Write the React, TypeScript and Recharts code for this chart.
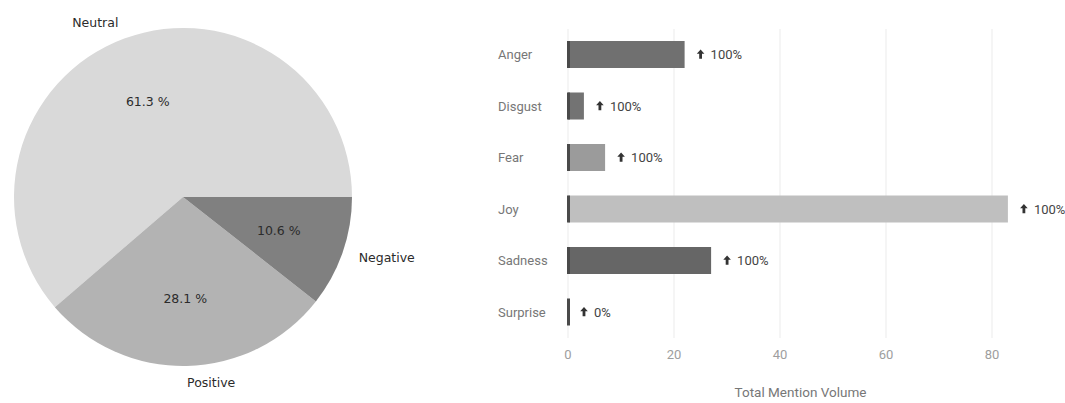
import React from 'react'
import {
  PieChart,
  Pie,
  Cell,
  BarChart,
  Bar,
  XAxis,
  YAxis,
  CartesianGrid,
  LabelList,
  Label,
} from 'recharts'

// sentiment split (pie)
const sentimentNames = ['Neutral', 'Positive', 'Negative']
const sentimentShares = [61.3, 28.1, 10.6]
const sentimentColors = ['#d9d9d9', '#b3b3b3', '#808080']

// emotions (horizontal bars)
const emotions = ['Anger', 'Disgust', 'Fear', 'Joy', 'Sadness', 'Surprise']
const mentionVolume = [22, 3, 7, 83, 27, 0]
const volumeChange = [100, 100, 100, 100, 100, 0]
const emotionColors = ['#707070', '#737373', '#9b9b9b', '#bfbfbf', '#666666', '#666666']
const volumeTicks = [0, 20, 40, 60, 80]
const volumeMax = 90

const pieData = sentimentNames.map((name, i) => ({ name, value: sentimentShares[i] }))
const barData = emotions.map((name, i) => ({ name, value: mentionVolume[i], change: volumeChange[i] }))

const RAD = Math.PI / 180
const pieFont = '"DejaVu Sans", sans-serif'
const barFont = 'Roboto, sans-serif'
const noMargin = { top: 0, right: 0, bottom: 0, left: 0 }

function PieLabel(props: any) {
  const { cx, cy, midAngle, outerRadius, percent } = props
  const name = props.name ?? props.payload?.name
  const cos = Math.cos(-midAngle * RAD)
  const sin = Math.sin(-midAngle * RAD)
  const ox = cx + outerRadius * 1.1 * cos
  const oy = cy + outerRadius * 1.1 * sin
  const ix = cx + outerRadius * 0.6 * cos
  const iy = cy + outerRadius * 0.6 * sin
  return (
    <g fontFamily={pieFont} fontSize={12.5} fill="#2b2b2b">
      <text x={ox} y={oy} textAnchor={cos >= 0 ? 'start' : 'end'} dominantBaseline="central">
        {name}
      </text>
      <text x={ix} y={iy} textAnchor="middle" dominantBaseline="central">
        {(percent * 100).toFixed(1)} %
      </text>
    </g>
  )
}

function EmotionTick(props: any) {
  const { x, y, payload } = props
  return (
    <text x={x - 70} y={y} textAnchor="start" dominantBaseline="central" fontFamily={barFont} fontSize={13} fill="#777">
      {payload.value}
    </text>
  )
}

function EdgedBar(props: any) {
  const { x, y, width, height, fill } = props
  return (
    <g>
      <rect x={x} y={y} width={Math.max(width, 0)} height={height} fill={fill} />
      <rect x={x - 1} y={y} width={3} height={height} fill="#4a4a4a" />
    </g>
  )
}

function ChangeLabel(props: any) {
  const x = Number(props.x)
  const y = Number(props.y)
  const width = Number(props.width)
  const height = Number(props.height)
  const ax = x + width + 16
  const cy = y + height / 2
  return (
    <g>
      <path d={`M${ax} ${cy - 5} l3.8 4.2 h-2.4 v5 h-2.8 v-5 h-2.4 z`} fill="#333" />
      <text x={ax + 10} y={cy} dominantBaseline="central" fontFamily={barFont} fontSize={13} fill="#444">
        {props.value}%
      </text>
    </g>
  )
}

// grid lines only at the labelled ticks
function tickGridLines({ offset }: any) {
  return volumeTicks.map((t) => offset.left + (offset.width * t) / volumeMax)
}

export default function App() {
  return (
    <div style={{ position: 'absolute', left: 0, top: 0, width: 1065, height: 403, background: '#fff' }}>
      <div style={{ position: 'absolute', left: 0, top: 0 }}>
        <PieChart width={430} height={403} margin={noMargin}>
          <Pie
            data={pieData}
            dataKey="value"
            nameKey="name"
            cx={183}
            cy={197}
            outerRadius={169}
            startAngle={0}
            endAngle={360}
            labelLine={false}
            label={PieLabel}
            isAnimationActive={false}
          >
            {pieData.map((_, i) => <Cell key={i} fill={sentimentColors[i]} stroke="none" />)}
          </Pie>
        </PieChart>
      </div>

      <div style={{ position: 'absolute', left: 430, top: 0 }}>
        <BarChart
          width={635}
          height={403}
          data={barData}
          layout="vertical"
          margin={{ top: 29, right: 20, bottom: 35, left: 0 }}
        >
          <CartesianGrid horizontal={false} stroke="#ebebeb" verticalCoordinatesGenerator={tickGridLines} />
          <XAxis
            type="number"
            domain={[0, volumeMax]}
            ticks={volumeTicks}
            axisLine={false}
            tickLine={false}
            tickSize={0}
            tickMargin={12}
            height={30}
            tick={{ fill: '#9e9e9e', fontSize: 13, fontFamily: barFont }}
          >
            <Label
              value="Total Mention Volume"
              position="bottom"
              offset={19}
              dx={-6}
              style={{ fill: '#777', fontSize: 13.5, fontFamily: barFont }}
            />
          </XAxis>
          <YAxis
            type="category"
            dataKey="name"
            width={138}
            axisLine={false}
            tickLine={false}
            tickSize={0}
            tickMargin={0}
            tick={<EmotionTick />}
          />
          <Bar dataKey="value" barSize={27} shape={<EdgedBar />} isAnimationActive={false}>
            {barData.map((_, i) => <Cell key={i} fill={emotionColors[i]} />)}
            <LabelList dataKey="change" content={<ChangeLabel />} />
          </Bar>
        </BarChart>
      </div>
    </div>
  )
}
